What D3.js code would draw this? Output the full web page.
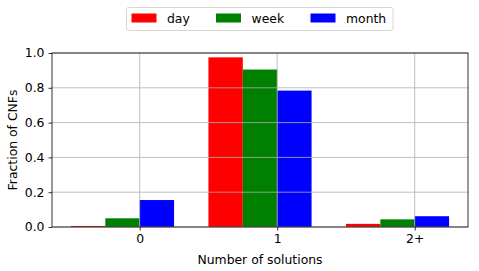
<!DOCTYPE html>
<html><head><meta charset="utf-8">
<script src="https://cdn.jsdelivr.net/npm/d3@7"></script>
<style>body{margin:0;background:#fff}text{font-family:"DejaVu Sans",sans-serif}</style>
</head><body>
<svg id="c" width="479" height="271"></svg>
<script>
const categories = ["0", "1", "2+"];
const seriesNames = ["day", "week", "month"];
const seriesColors = ["#ff0000", "#008000", "#0000ff"];
const dayValues = [0.006, 0.975, 0.018];
const weekValues = [0.05, 0.905, 0.044];
const monthValues = [0.155, 0.784, 0.062];
const yTicks = [0.0, 0.2, 0.4, 0.6, 0.8, 1.0];
const series = [dayValues, weekValues, monthValues];

const svg = d3.select("#c");
const m = {l: 52, r: 468, t: 53, b: 227};
const fs = "12.4px";
const x = d3.scaleLinear().domain([-0.6375, 2.3875]).range([m.l, m.r]);
const y = d3.scaleLinear().domain([0, 1]).range([m.b, m.t]);
const bw = 0.25;

// bars
series.forEach((vals, si) => {
  svg.append("g").selectAll("rect").data(vals).join("rect")
    .attr("x", (d, i) => x(i - 0.5 + si * bw))
    .attr("width", x(bw) - x(0))
    .attr("y", d => y(d))
    .attr("height", d => y(0) - y(d))
    .attr("fill", seriesColors[si]);
});

// grid
const g = svg.append("g");
yTicks.forEach(t => g.append("line").attr("x1", m.l).attr("x2", m.r).attr("y1", y(t)).attr("y2", y(t)).attr("stroke", "#b0b0b0").attr("stroke-width", 0.8));
categories.forEach((c, i) => g.append("line").attr("x1", x(i)).attr("x2", x(i)).attr("y1", m.t).attr("y2", m.b).attr("stroke", "#b0b0b0").attr("stroke-width", 0.8));

// axes
const xAxis = d3.axisBottom(x).tickValues([0, 1, 2]).tickFormat((d, i) => categories[i]).tickSize(3.5).tickPadding(4);
const yAxis = d3.axisLeft(y).tickValues(yTicks).tickFormat(d3.format(".1f")).tickSize(3.5).tickPadding(4);
const gx = svg.append("g").attr("transform", `translate(0,${m.b})`).call(xAxis);
const gy = svg.append("g").attr("transform", `translate(${m.l},0)`).call(yAxis);
[gx, gy].forEach(a => {
  a.select(".domain").remove();
  a.selectAll("text").style("font-size", fs).attr("fill", "#000").style("font-family", "DejaVu Sans");
  a.selectAll("line").attr("stroke", "#000").attr("stroke-width", 0.8);
});
svg.append("rect").attr("x", m.l).attr("y", m.t).attr("width", m.r - m.l).attr("height", m.b - m.t)
  .attr("fill", "none").attr("stroke", "#000").attr("stroke-width", 0.8);

// labels
svg.append("text").attr("x", (m.l + m.r) / 2).attr("y", 264).attr("text-anchor", "middle").style("font-size", fs).text("Number of solutions");
svg.append("text").attr("transform", `translate(17,${(m.t + m.b) / 2}) rotate(-90)`).attr("text-anchor", "middle").style("font-size", fs).text("Fraction of CNFs");

// legend
const lg = svg.append("g");
lg.append("rect").attr("x", 126.5).attr("y", 7.5).attr("width", 266.5).attr("height", 23).attr("rx", 2)
  .attr("fill", "#fff").attr("stroke", "#cccccc").attr("stroke-width", 0.8);
const lx = [131.5, 216, 310.5];
seriesNames.forEach((n, i) => {
  lg.append("rect").attr("x", lx[i]).attr("y", 13.5).attr("width", 25).attr("height", 9).attr("fill", seriesColors[i]);
  lg.append("text").attr("x", lx[i] + 35.5).attr("y", 22.5).style("font-size", fs).text(n);
});
</script>
</body></html>
